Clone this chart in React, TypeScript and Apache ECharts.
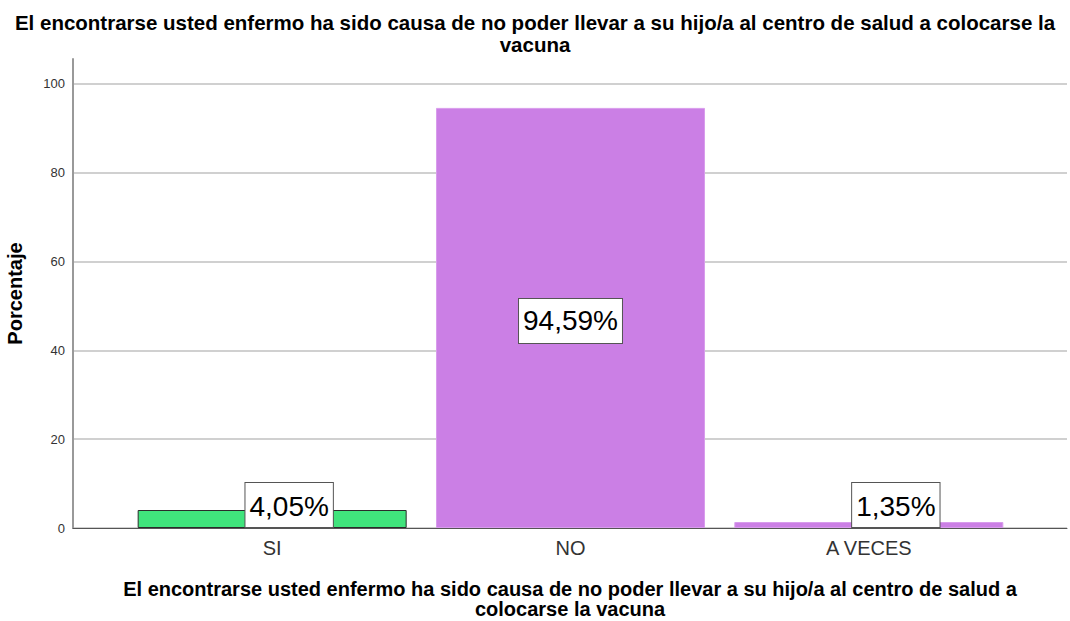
import React, { useEffect, useRef } from "react";
import * as echarts from "echarts";

const titleText =
  "El encontrarse usted enfermo ha sido causa de no poder llevar a su hijo/a al centro de salud a colocarse la\nvacuna";
const xAxisTitle =
  "El encontrarse usted enfermo ha sido causa de no poder llevar a su hijo/a al centro de salud a\ncolocarse la vacuna";
const yAxisTitle = "Porcentaje";
const categories = ["SI", "NO", "A VECES"];
const values = [4.05, 94.59, 1.35];
const labels = ["4,05%", "94,59%", "1,35%"];
const barColors = ["#40e47c", "#cb7fe5", "#cb7fe5"];
const barBorders = ["#2b2b2b", "#d89cec", "#d89cec"];
const labelOffsets = [[17, 0], [0, 3], [27, 0]];
const labelPositions = ["insideBottom", "inside", "insideBottom"];
const yMax = 105.6;

export default function App() {
  const ref = useRef<HTMLDivElement>(null);
  useEffect(() => {
    document.body.style.margin = "0";
    const chart = echarts.init(ref.current!, null, { renderer: "svg" });
    const font = "'Liberation Sans', Arial, sans-serif";
    const labelStyle = {
      show: true,
      fontSize: 28,
      fontFamily: font,
      color: "#000",
      backgroundColor: "#fff",
      borderColor: "#555",
      borderWidth: 1,
      padding: [3, 4, 1, 4],
      lineHeight: 40,
    };
    chart.setOption({
      animation: false,
      title: {
        text: titleText,
        left: "center",
        top: 6,
        textStyle: {
          fontSize: 20.5,
          fontWeight: "bold",
          fontFamily: font,
          color: "#000",
          lineHeight: 22,
        },
      },
      grid: [
        { left: 73, right: 3, top: 59, bottom: 93, containLabel: false, outerBoundsMode: "none" },
        { left: 123, right: 52, top: 59, bottom: 93, containLabel: false, outerBoundsMode: "none" },
      ],
      xAxis: [
        {
          type: "value",
          gridIndex: 0,
          min: 0,
          max: 1,
          axisLine: { show: true, lineStyle: { color: "#555", width: 1 } },
          axisTick: { show: false },
          axisLabel: { show: false },
          splitLine: { show: false },
          name: xAxisTitle,
          nameLocation: "middle",
          nameGap: 51,
          nameTextStyle: {
            fontSize: 20,
            fontWeight: "bold",
            fontFamily: font,
            color: "#000",
            lineHeight: 20,
          },
        },
        {
          type: "category",
          gridIndex: 1,
          data: categories,
          axisLine: { show: false },
          axisTick: { show: false },
          axisLabel: {
            fontSize: 20,
            fontFamily: font,
            color: "#333",
            margin: 10,
          },
        },
      ],
      yAxis: [
        {
          type: "value",
          gridIndex: 0,
          min: 0,
          max: yMax,
          interval: 20,
          axisLine: { show: true, lineStyle: { color: "#999", width: 2 } },
          axisTick: { show: false },
          axisLabel: {
            showMaxLabel: false,
            fontSize: 13,
            fontFamily: font,
            color: "#333",
            margin: 8,
            formatter: (v: number) => (v % 20 === 0 ? String(v) : ""),
          },
          splitLine: {
            show: true,
            lineStyle: {
              color: ["#d0d0d0", "#d0d0d0", "#d0d0d0", "#d0d0d0", "#d0d0d0", "#d0d0d0", "rgba(0,0,0,0)"],
              width: 2,
            },
          },
          name: yAxisTitle,
          nameLocation: "middle",
          nameGap: 48,
          nameTextStyle: {
            fontSize: 20,
            fontWeight: "bold",
            fontFamily: font,
            color: "#000",
          },
        },
        {
          type: "value",
          gridIndex: 1,
          min: 0,
          max: yMax,
          show: false,
          splitLine: { show: false },
        },
      ],
      series: [
        {
          type: "bar",
          xAxisIndex: 1,
          yAxisIndex: 1,
          barWidth: 269,
          data: values.map((v, i) => ({
            value: v,
            itemStyle: {
              color: barColors[i],
              borderColor: barBorders[i],
              borderWidth: 1,
            },
            label: {
              ...labelStyle,
              position: labelPositions[i],
              distance: 1,
              offset: labelOffsets[i],
              formatter: labels[i],
            },
          })),
        },
      ],
    });
    return () => chart.dispose();
  }, []);
  return <div ref={ref} style={{ width: 1070, height: 621 }} />;
}
